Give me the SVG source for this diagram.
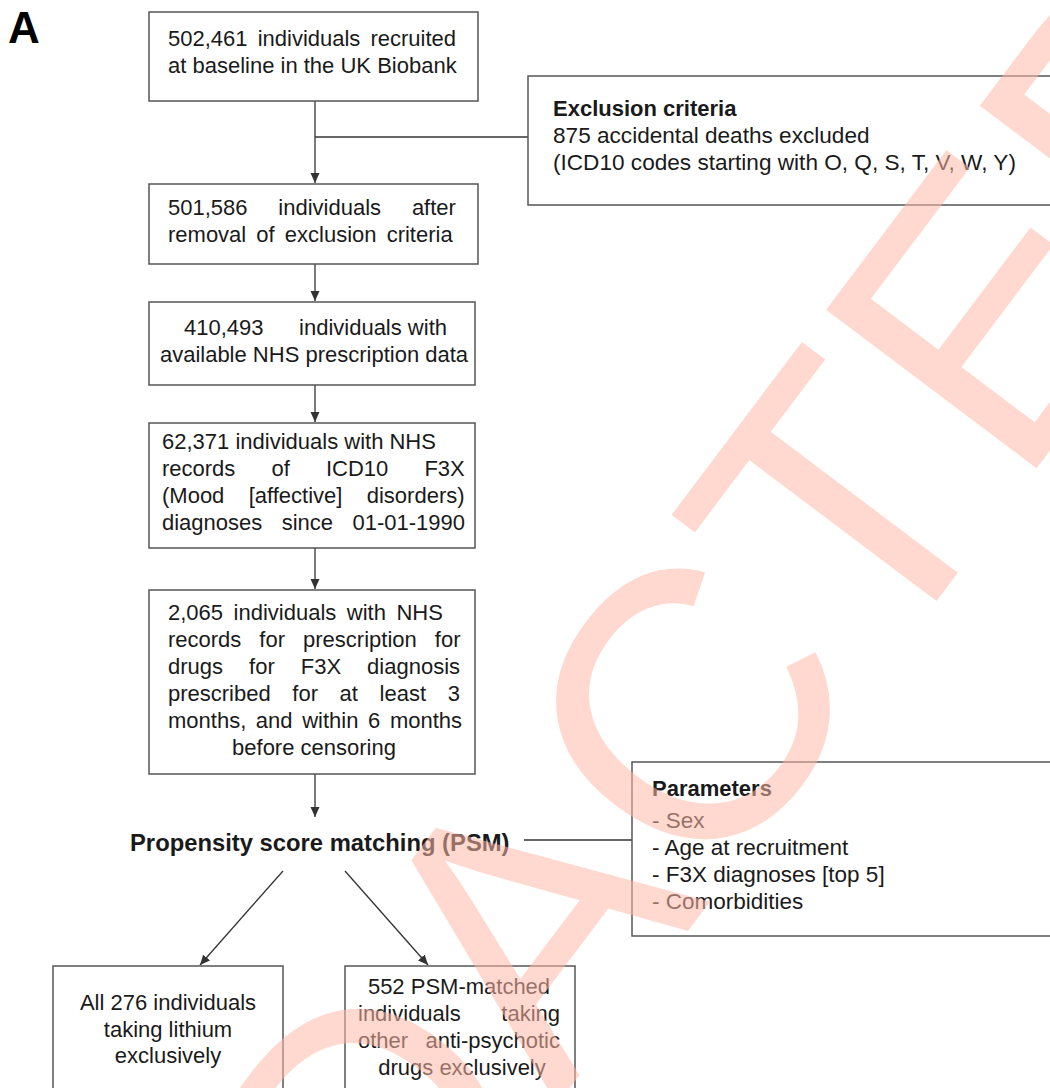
<svg xmlns="http://www.w3.org/2000/svg" width="1050" height="1088" viewBox="0 0 1050 1088">
<defs>
<style>
.t{font-family:"Liberation Sans",Arial,Helvetica,sans-serif;font-size:22px;fill:#1a1a1a}
.b{font-weight:bold}
.c{text-anchor:middle}
.e{text-anchor:end}
.m{font-size:22.6px}
.box{fill:#fff;stroke:#555;stroke-width:1.5}
.ln{stroke:#333;stroke-width:1.3;fill:none}
.wm{font-family:"Liberation Sans",Arial,sans-serif;font-size:383px;fill:#ffb9a7;opacity:0.54}
</style>
<marker id="ah" markerUnits="userSpaceOnUse" markerWidth="12" markerHeight="10" refX="10" refY="4.5" orient="auto">
<path d="M0,0 L10,4.5 L0,9 Z" fill="#333"/>
</marker>
</defs>
<rect width="1050" height="1088" fill="#fff"/>
<text class="t b" x="8" y="43" style="font-size:44px;fill:#000">A</text>

<g id="connectors">
<line class="ln" x1="315" y1="101" x2="315" y2="183" marker-end="url(#ah)"/>
<line class="ln" x1="315" y1="137" x2="528" y2="137"/>
<line class="ln" x1="315" y1="264" x2="315" y2="301" marker-end="url(#ah)"/>
<line class="ln" x1="315" y1="385" x2="315" y2="422" marker-end="url(#ah)"/>
<line class="ln" x1="315" y1="548" x2="315" y2="589" marker-end="url(#ah)"/>
<line class="ln" x1="315" y1="774" x2="315" y2="817" marker-end="url(#ah)"/>
<line class="ln" x1="524" y1="840" x2="632" y2="840"/>
<line class="ln" x1="283" y1="871" x2="200" y2="965" marker-end="url(#ah)"/>
<line class="ln" x1="345" y1="871" x2="428" y2="965" marker-end="url(#ah)"/>
</g>

<g id="n1">
<rect class="box" x="149" y="12" width="329" height="89"/>
<text class="t" x="168" y="46" word-spacing="4">502,461 individuals recruited</text>
<text class="t" x="168" y="73">at baseline in the UK Biobank</text>
</g>

<g id="excl">
<rect class="box" x="528" y="76" width="524" height="129"/>
<text class="t b" x="553" y="116">Exclusion criteria</text>
<text class="t m" x="553" y="143">875 accidental deaths excluded</text>
<text class="t m" x="553" y="170">(ICD10 codes starting with O, Q, S, T, V, W, Y)</text>
</g>

<g id="n2">
<rect class="box" x="149" y="184" width="329" height="80"/>
<text class="t" x="168" y="215" word-spacing="24.7">501,586 individuals after</text>
<text class="t" x="168" y="242" word-spacing="4">removal of exclusion criteria</text>
</g>

<g id="n3">
<rect class="box" x="149" y="302" width="326" height="83"/>
<text class="t" x="184" y="335">410,493</text>
<text class="t e" x="447" y="335">individuals with</text>
<text class="t c" x="314" y="362">available NHS prescription data</text>
</g>

<g id="n4">
<rect class="box" x="149" y="423" width="326" height="125"/>
<text class="t" x="162" y="449">62,371 individuals with NHS</text>
<text class="t" x="162" y="476" word-spacing="30">records of ICD10 F3X</text>
<text class="t" x="162" y="503" word-spacing="18.2">(Mood [affective] disorders)</text>
<text class="t" x="162" y="530" word-spacing="13.3">diagnoses since 01-01-1990</text>
</g>

<g id="n5">
<rect class="box" x="149" y="590" width="326" height="184"/>
<text class="t" x="168" y="620" word-spacing="4.4">2,065 individuals with NHS</text>
<text class="t" x="168" y="647" word-spacing="11.9">records for prescription for</text>
<text class="t" x="168" y="674" word-spacing="19.9">drugs for F3X diagnosis</text>
<text class="t" x="168" y="701" word-spacing="15.5">prescribed for at least 3</text>
<text class="t" x="168" y="728" word-spacing="3.5">months, and within 6 months</text>
<text class="t c" x="314" y="755">before censoring</text>
</g>

<g id="psm">
<text class="t b" x="130" y="851" style="font-size:23.8px">Propensity score matching (PSM)</text>
</g>

<g id="params">
<rect class="box" x="632" y="762" width="420" height="174"/>
<text class="t b" x="652" y="796">Parameters</text>
<text class="t" x="652" y="828" style="font-size:22.5px">- Sex</text>
<text class="t" x="652" y="855" style="font-size:22.5px">- Age at recruitment</text>
<text class="t" x="652" y="882" style="font-size:22.5px">- F3X diagnoses [top 5]</text>
<text class="t" x="652" y="909" style="font-size:22.5px">- Comorbidities</text>
</g>

<g id="lithium">
<rect class="box" x="53" y="966" width="230" height="140"/>
<text class="t c" x="168" y="1010">All 276 individuals</text>
<text class="t c" x="168" y="1037">taking lithium</text>
<text class="t c" x="168" y="1063">exclusively</text>
</g>

<g id="other">
<rect class="box" x="345" y="966" width="230" height="140"/>
<text class="t c" x="459" y="994">552 PSM-matched</text>
<text class="t" x="358" y="1021" word-spacing="34.5">individuals taking</text>
<text class="t" x="358" y="1048" word-spacing="11.2">other anti-psychotic</text>
<text class="t c" x="462" y="1075">drugs exclusively</text>
</g>

<g id="watermark">
<text class="wm" transform="translate(70,1751) rotate(-53)">REDACTED</text>
</g>
</svg>
